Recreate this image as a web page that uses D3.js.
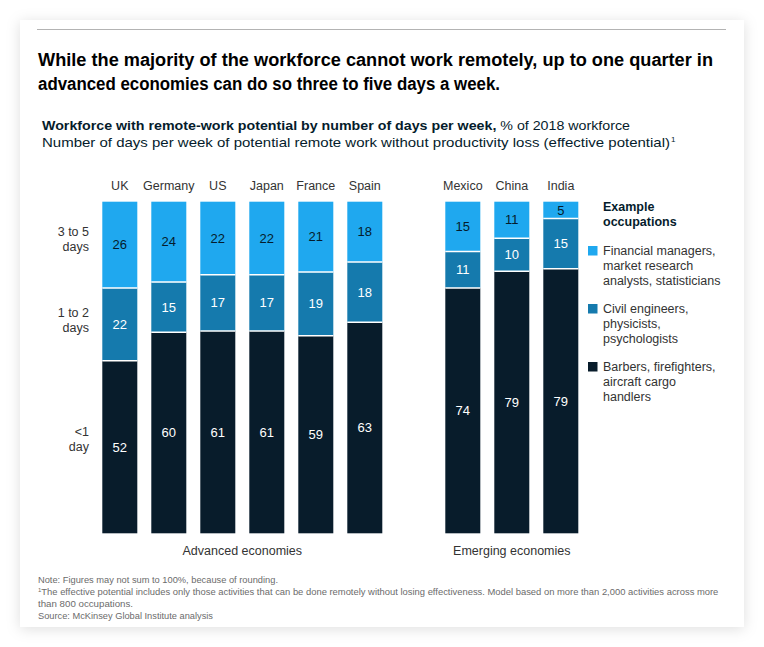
<!DOCTYPE html>
<html>
<head>
<meta charset="utf-8">
<script src="https://cdn.jsdelivr.net/npm/d3@7"></script>
<style>
  html, body { margin: 0; padding: 0; background: #ffffff; }
  svg { display: block; font-family: "Liberation Sans", Arial, sans-serif; }
</style>
</head>
<body>
<svg id="chart" width="764" height="647"></svg>
<script>
// ---- Data ----
const countries = ["UK", "Germany", "US", "Japan", "France", "Spain", "Mexico", "China", "India"];
const groups = ["Advanced economies", "Advanced economies", "Advanced economies", "Advanced economies", "Advanced economies", "Advanced economies", "Emerging economies", "Emerging economies", "Emerging economies"];
const days3to5 = [26, 24, 22, 22, 21, 18, 15, 11, 5];
const days1to2 = [22, 15, 17, 17, 19, 18, 11, 10, 15];
const daysUnder1 = [52, 60, 61, 61, 59, 63, 74, 79, 79];
const seriesKeys = ["under1", "d12", "d35"];
const rowLabels = [["3 to 5", "days"], ["1 to 2", "days"], ["<1", "day"]];
const legendLabels = [
  ["Financial managers,", "market research", "analysts, statisticians"],
  ["Civil engineers,", "physicists,", "psychologists"],
  ["Barbers, firefighters,", "aircraft cargo", "handlers"]
];

const colors = { d35: "#1fa8ef", d12: "#157aad", under1: "#081c2b" };
const textColors = { d35: "#051c2c", d12: "#ffffff", under1: "#ffffff" };

const rows = countries.map((c, i) => ({
  country: c, group: groups[i], d35: days3to5[i], d12: days1to2[i], under1: daysUnder1[i]
}));

const svg = d3.select("#chart");

// ---- Card with shadow ----
const defs = svg.append("defs");
const f = defs.append("filter").attr("id", "shadow").attr("x", "-10%").attr("y", "-10%").attr("width", "120%").attr("height", "120%");
f.append("feDropShadow").attr("dx", 0).attr("dy", 2).attr("stdDeviation", 7).attr("flood-color", "#000").attr("flood-opacity", 0.13);
svg.append("rect").attr("x", 20).attr("y", 20).attr("width", 724).attr("height", 607)
  .attr("fill", "#fff").attr("filter", "url(#shadow)");
svg.append("line").attr("x1", 37).attr("x2", 726).attr("y1", 29.5).attr("y2", 29.5)
  .attr("stroke", "#b3b3b3").attr("stroke-width", 1);

// ---- Title ----
const title = svg.append("g").attr("font-weight", "bold").attr("font-size", 17.5).attr("fill", "#000");
title.append("text").attr("x", 38).attr("y", 66)
  .attr("textLength", 675).attr("lengthAdjust", "spacingAndGlyphs")
  .text("While the majority of the workforce cannot work remotely, up to one quarter in");
title.append("text").attr("x", 38).attr("y", 90)
  .attr("textLength", 462).attr("lengthAdjust", "spacingAndGlyphs")
  .text("advanced economies can do so three to five days a week.");

// ---- Subtitle ----
const sub1 = svg.append("text").attr("x", 42).attr("y", 130).attr("font-size", 13.5).attr("fill", "#051c2c")
  .attr("textLength", 588).attr("lengthAdjust", "spacingAndGlyphs");
sub1.append("tspan").attr("font-weight", "bold").text("Workforce with remote-work potential by number of days per week,");
sub1.append("tspan").text(" % of 2018 workforce");
const sub2 = svg.append("text").attr("x", 42).attr("y", 147).attr("font-size", 13.5).attr("fill", "#051c2c");
sub2.append("tspan").attr("textLength", 628).attr("lengthAdjust", "spacingAndGlyphs")
  .text("Number of days per week of potential remote work without productivity loss (effective potential)");
sub2.append("tspan").attr("font-size", 8).attr("dy", -5).attr("dx", 1).text("1");

// ---- Scales ----
const slots = d3.range(countries.length + 1);
const slotOf = (i) => (i < 6 ? i : i + 1);
const x = d3.scaleBand().domain(slots).range([95.3, 585.3]).paddingInner(14 / 49).paddingOuter(7 / 49);
const y = d3.scaleLinear().domain([0, 1]).range([533.3, 201.7]);

const stack = d3.stack().keys(seriesKeys).offset(d3.stackOffsetExpand);
const stacked = stack(rows);

// ---- Bars ----
const barG = svg.append("g");
stacked.forEach((layer) => {
  const key = layer.key;
  const g = barG.append("g");
  g.selectAll("rect").data(layer).join("rect")
    .attr("x", (d, i) => x(slotOf(i)))
    .attr("width", x.bandwidth())
    .attr("y", (d) => y(d[1]))
    .attr("height", (d) => y(d[0]) - y(d[1]))
    .attr("fill", colors[key])
    .attr("stroke", "#ffffff")
    .attr("stroke-width", 0);
  g.selectAll("text").data(layer).join("text")
    .attr("x", (d, i) => x(slotOf(i)) + x.bandwidth() / 2)
    .attr("y", (d) => (y(d[0]) + y(d[1])) / 2)
    .attr("dy", "0.35em")
    .attr("text-anchor", "middle")
    .attr("font-size", 13)
    .attr("fill", textColors[key])
    .text((d) => d.data[key]);
});
// white separators between segments
stacked.slice(0, 2).forEach((layer) => {
  barG.append("g").selectAll("line").data(layer).join("line")
    .attr("x1", (d, i) => x(slotOf(i)))
    .attr("x2", (d, i) => x(slotOf(i)) + x.bandwidth())
    .attr("y1", (d) => y(d[1]))
    .attr("y2", (d) => y(d[1]))
    .attr("stroke", "#fff").attr("stroke-width", 1.5);
});

// ---- Country labels ----
svg.append("g").selectAll("text").data(countries).join("text")
  .attr("x", (d, i) => x(slotOf(i)) + x.bandwidth() / 2)
  .attr("y", 190)
  .attr("text-anchor", "middle")
  .attr("font-size", 12.5)
  .attr("fill", "#333")
  .text((d) => d);

// ---- Row labels ----
const rowY = [236, 317, 436];
const rl = svg.append("g").attr("font-size", 12.5).attr("fill", "#333").attr("text-anchor", "end");
rowLabels.forEach((lines, k) => {
  lines.forEach((t, j) => {
    rl.append("text").attr("x", 89).attr("y", rowY[k] + j * 15).text(t);
  });
});

// ---- Group labels ----
const groupNames = Array.from(new Set(groups));
const gl = svg.append("g").attr("font-size", 12.5).attr("fill", "#333").attr("text-anchor", "middle");
groupNames.forEach((gname) => {
  const idx = groups.map((g, i) => (g === gname ? i : -1)).filter((i) => i >= 0);
  const x0 = x(slotOf(idx[0]));
  const x1 = x(slotOf(idx[idx.length - 1])) + x.bandwidth();
  gl.append("text").attr("x", (x0 + x1) / 2).attr("y", 555).text(gname);
});

// ---- Legend ----
const lg = svg.append("g");
lg.append("text").attr("x", 603).attr("y", 211).attr("font-size", 12.5).attr("font-weight", "bold").attr("fill", "#051c2c").text("Example");
lg.append("text").attr("x", 603).attr("y", 226).attr("font-size", 12.5).attr("font-weight", "bold").attr("fill", "#051c2c").text("occupations");
const legendKeys = ["d35", "d12", "under1"];
const legendY = [246, 304, 362];
legendKeys.forEach((k, i) => {
  lg.append("rect").attr("x", 588).attr("y", legendY[i]).attr("width", 9.5).attr("height", 9.5).attr("fill", colors[k]);
  legendLabels[i].forEach((t, j) => {
    lg.append("text").attr("x", 603).attr("y", legendY[i] + 9 + j * 15)
      .attr("font-size", 12.5).attr("fill", "#333").text(t);
  });
});

// ---- Footnotes ----
const fn = svg.append("g").attr("font-size", 9.5).attr("fill", "#6b6b6b");
fn.append("text").attr("x", 38).attr("y", 583).attr("textLength", 240).attr("lengthAdjust", "spacingAndGlyphs")
  .text("Note: Figures may not sum to 100%, because of rounding.");
const fn2 = fn.append("text").attr("x", 38).attr("y", 595);
fn2.append("tspan").attr("font-size", 6).attr("dy", -3).text("1");
fn2.append("tspan").attr("dy", 3).attr("textLength", 677).attr("lengthAdjust", "spacingAndGlyphs")
  .text("The effective potential includes only those activities that can be done remotely without losing effectiveness. Model based on more than 2,000 activities across more");
fn.append("text").attr("x", 38).attr("y", 607).attr("textLength", 95).attr("lengthAdjust", "spacingAndGlyphs")
  .text("than 800 occupations.");
fn.append("text").attr("x", 38).attr("y", 619).attr("textLength", 175).attr("lengthAdjust", "spacingAndGlyphs")
  .text("Source: McKinsey Global Institute analysis");
</script>
</body>
</html>
